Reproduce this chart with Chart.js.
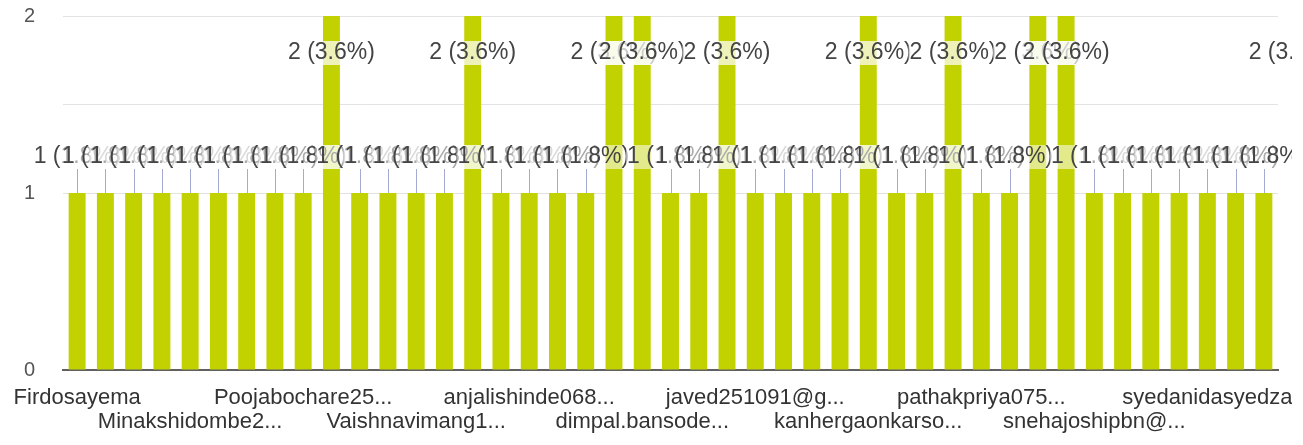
<!DOCTYPE html>
<html>
<head>
<meta charset="utf-8">
<script src="https://cdn.jsdelivr.net/npm/chart.js@4.4.0/dist/chart.umd.min.js"></script>
<style>
  html, body { margin: 0; padding: 0; background: #fff; }
  #wrap { width: 1303px; height: 445px; position: relative; }
</style>
</head>
<body>
<div id="wrap"><canvas id="chart"></canvas></div>
<script>
// one bar per respondent; only every 4th name is printed on the axis
const respondents = [
  'Firdosayema', '', '', '',
  'Minakshidombe2...', '', '', '',
  'Poojabochare25...', '', '', '',
  'Vaishnavimang1...', '', '', '',
  'anjalishinde068...', '', '', '',
  'dimpal.bansode...', '', '', '',
  'javed251091@g...', '', '', '',
  'kanhergaonkarso...', '', '', '',
  'pathakpriya075...', '', '', '',
  'snehajoshipbn@...', '', '', '',
  'syedanidasyedza', '', '', ''
];
const counts = [
  1, 1, 1, 1, 1, 1, 1, 1, 1, 2,
  1, 1, 1, 1, 2, 1, 1, 1, 1, 2,
  2, 1, 1, 2, 1, 1, 1, 1, 2, 1,
  1, 2, 1, 1, 2, 2, 1, 1, 1, 1,
  1, 1, 1, 2
];
const totalResponses = 55;
const yTicks = [0, 1, 2];
const lastVisibleBar = 42; // the chart is cut off on the right

Chart.defaults.font.family = '"Liberation Sans", Arial, sans-serif';

const clipRight = {
  id: 'clipRight',
  beforeDraw(chart) {
    const ctx = chart.ctx;
    ctx.save();
    ctx.beginPath();
    ctx.rect(0, 0, 1292, chart.height);
    ctx.clip();
  },
  afterDraw(chart) {
    chart.ctx.restore();
  }
};

// "n (x%)" annotations with a thin leader line, like the forms summary chart
const barLabels = {
  id: 'barLabels',
  afterDatasetsDraw(chart) {
    const { ctx, chartArea } = chart;
    const meta = chart.getDatasetMeta(0);
    ctx.save();
    ctx.font = '23px "Liberation Sans", Arial, sans-serif';
    ctx.textAlign = 'center';
    ctx.textBaseline = 'middle';
    meta.data.forEach((bar, i) => {
      const v = counts[i];
      const text = v + ' (' + (v / totalResponses * 100).toFixed(1) + '%)';
      let y = bar.y - 36;
      const inside = y - 12 < chartArea.top;
      if (inside) y = bar.y + 37;
      const w = ctx.measureText(text).width;
      if (!inside) {
        ctx.strokeStyle = '#a3abd0';
        ctx.lineWidth = 1;
        ctx.beginPath();
        ctx.moveTo(Math.round(bar.x) + 0.5, y + 12);
        ctx.lineTo(Math.round(bar.x) + 0.5, bar.y);
        ctx.stroke();
      }
      ctx.fillStyle = inside ? 'rgba(255,255,255,0.72)' : 'rgba(255,255,255,0.55)';
      ctx.fillRect(bar.x - w / 2 - 1, y - 12, w + 2, 24);
      ctx.fillStyle = '#444';
      ctx.fillText(text, bar.x, y);
    });
    ctx.restore();
  }
};

new Chart(document.getElementById('chart'), {
  type: 'bar',
  data: {
    labels: respondents.map((r, i) => r || ' ' + i),
    datasets: [{
      data: counts,
      backgroundColor: '#c2d100',
      categoryPercentage: 1,
      barPercentage: 0.6
    }]
  },
  options: {
    responsive: true,
    maintainAspectRatio: false,
    animation: false,
    layout: { padding: { top: 16, right: 25, bottom: 0, left: 0 } },
    plugins: {
      legend: { display: false },
      tooltip: { enabled: false }
    },
    scales: {
      x: {
        max: lastVisibleBar,
        afterFit(scale) {
          scale.height = 75;
          scale.paddingLeft = 0;
          scale.paddingRight = 0;
        },
        grid: { display: false, drawTicks: false },
        border: { display: true, color: '#606060', width: 2 },
        ticks: {
          autoSkip: false,
          maxRotation: 0,
          padding: 16,
          color: '#333',
          font: { size: 22, lineHeight: 1.1 },
          callback: (val, i) => {
            const name = respondents[i];
            if (!name) return '';
            return (i / 4) % 2 === 0 ? [name] : ['', name];
          }
        }
      },
      y: {
        min: 0,
        max: 2,
        afterFit(scale) { scale.width = 63; },
        border: { display: false },
        grid: {
          drawTicks: true,
          tickLength: 28,
          tickColor: 'rgba(0,0,0,0)',
          color: c => (c.tick.value === 0 || c.tick.value === 0.5) ? 'rgba(0,0,0,0)' : '#e3e3e3'
        },
        ticks: {
          stepSize: 0.5,
          padding: 0,
          color: '#555',
          font: { size: 20 },
          callback: v => yTicks.includes(v) ? v : ''
        }
      }
    }
  },
  plugins: [clipRight, barLabels]
});
</script>
</body>
</html>
